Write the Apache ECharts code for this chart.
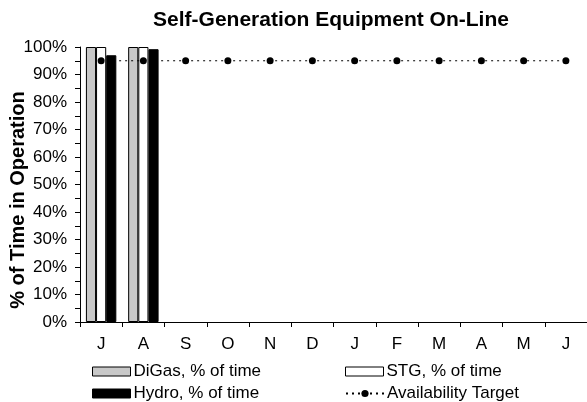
<!DOCTYPE html>
<html>
<head>
<meta charset="utf-8">
<script src="https://cdn.jsdelivr.net/npm/echarts@6/dist/echarts.min.js"></script>
<style>
  html, body { margin: 0; padding: 0; background: #fff; }
  #chart { width: 587px; height: 402px; }
</style>
</head>
<body>
<div id="chart"></div>
<script>
// month labels, July through June
var months = ['J', 'A', 'S', 'O', 'N', 'D', 'J', 'F', 'M', 'A', 'M', 'J'];
// % of time on line, only first two months reported
var digasData = [100, 100, null, null, null, null, null, null, null, null, null, null];
var stgData = [100, 100, null, null, null, null, null, null, null, null, null, null];
var hydroData = [97, 99.2, null, null, null, null, null, null, null, null, null, null];
var targetData = [95, 95, 95, 95, 95, 95, 95, 95, 95, 95, 95, 95];

var font = 'Liberation Sans, Arial, sans-serif';

// one legend box per entry so the 2x2 layout is exact
var legendBox = function (name, left, top, icon) {
  var box = {
    left: left, top: top, padding: 0,
    itemWidth: 38, itemHeight: 9, itemGap: 0,
    itemStyle: { borderWidth: 1 },
    textStyle: { fontFamily: font, fontSize: 17, color: '#000', padding: [0, 0, 0, -2] },
    data: [name]
  };
  if (icon) box.icon = icon;
  return box;
};

var chart = echarts.init(document.getElementById('chart'));

var option = {
  backgroundColor: '#fff',
  animation: false,
  title: {
    text: 'Self-Generation Equipment On-Line',
    left: 326,
    textAlign: 'center',
    top: 5,
    textStyle: { fontFamily: font, fontSize: 21, fontWeight: 'bold', color: '#000' }
  },
  grid: { left: 80, right: 0, top: 47, bottom: 80 },
  legend: [
    legendBox('DiGas, % of time', 92, 363, 'rect'),
    legendBox('Hydro, % of time', 92, 385, 'rect'),
    legendBox('STG, % of time', 345, 363, 'rect'),
    legendBox('Availability Target', 345, 385)
  ],
  graphic: [{
    type: 'text',
    x: 18, y: 200,
    rotation: Math.PI / 2,
    style: {
      text: '% of Time in Operation',
      font: 'bold 20px ' + font,
      fill: '#000',
      align: 'center',
      verticalAlign: 'middle'
    }
  }],
  xAxis: {
    type: 'category',
    data: months,
    boundaryGap: true,
    axisLine: { lineStyle: { color: '#000', width: 1 } },
    axisTick: { show: true, interval: 0, length: 5, lineStyle: { color: '#000' } },
    axisLabel: { interval: 0, margin: 14, fontFamily: font, fontSize: 17, color: '#000' },
    splitLine: { show: false }
  },
  yAxis: {
    type: 'value',
    min: 0, max: 100, interval: 10,
    axisLine: { show: true, lineStyle: { color: '#000', width: 1 } },
    axisTick: { show: true, length: 5, lineStyle: { color: '#000' } },
    minorTick: { show: true, splitNumber: 2, length: 5, lineStyle: { color: '#000' } },
    axisLabel: { formatter: '{value}%', margin: 13, fontFamily: font, fontSize: 17, color: '#000' },
    splitLine: { show: false }
  },
  series: [
    {
      name: 'DiGas, % of time',
      type: 'bar',
      data: digasData,
      barGap: '0%',
      barCategoryGap: '28%',
      itemStyle: { color: '#c8c8c8', borderColor: '#000', borderWidth: 1 }
    },
    {
      name: 'STG, % of time',
      type: 'bar',
      data: stgData,
      itemStyle: { color: '#fff', borderColor: '#000', borderWidth: 1 }
    },
    {
      name: 'Hydro, % of time',
      type: 'bar',
      data: hydroData,
      itemStyle: { color: '#000', borderColor: '#000', borderWidth: 1 }
    },
    {
      name: 'Availability Target',
      type: 'line',
      data: targetData,
      symbol: 'circle',
      symbolSize: 7,
      z: 5,
      itemStyle: { color: '#000' },
      lineStyle: { color: '#000', width: 1, type: [2, 4] }
    }
  ]
};

chart.setOption(option);
</script>
</body>
</html>
